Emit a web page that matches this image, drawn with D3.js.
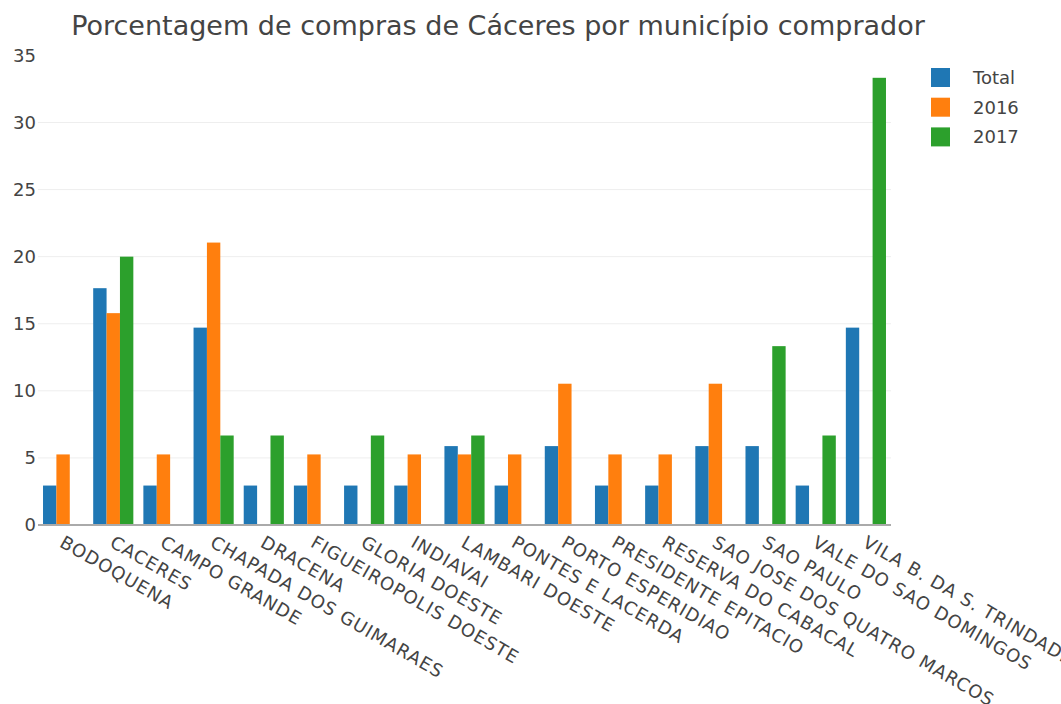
<!DOCTYPE html>
<html>
<head>
    <meta charset="utf-8">
    <title>Compras de Cáceres</title>
    <script src="https://cdnjs.cloudflare.com/ajax/libs/d3/7.8.5/d3.min.js"></script>
    <style>
        html, body {
            margin: 0;
            padding: 0;
            background-color: #fff;
        }
        svg {
            font-family: 'DejaVu Sans', Verdana, sans-serif;
            fill: #444;
        }
    </style>
</head>
<body>
    <div id="chart"></div>
    <script>
        const municipios = ["BODOQUENA", "CACERES", "CAMPO GRANDE", "CHAPADA DOS GUIMARAES", "DRACENA",
            "FIGUEIROPOLIS DOESTE", "GLORIA DOESTE", "INDIAVAI", "LAMBARI DOESTE", "PONTES E LACERDA",
            "PORTO ESPERIDIAO", "PRESIDENTE EPITACIO", "RESERVA DO CABACAL", "SAO JOSE DOS QUATRO MARCOS",
            "SAO PAULO", "VALE DO SAO DOMINGOS", "VILA B. DA S. TRINDADE"];
        const series = ["Total", "2016", "2017"];
        const total = [2.94, 17.65, 2.94, 14.71, 2.94, 2.94, 2.94, 2.94, 5.88, 2.94, 5.88, 2.94, 2.94, 5.88, 5.88, 2.94, 14.71];
        const ano2016 = [5.26, 15.79, 5.26, 21.05, 0, 5.26, 0, 5.26, 5.26, 5.26, 10.53, 5.26, 5.26, 10.53, 0, 0, 0];
        const ano2017 = [0, 20, 0, 6.67, 6.67, 0, 6.67, 0, 6.67, 0, 0, 0, 0, 0, 13.33, 6.67, 33.33];
        const yTicks = [0, 5, 10, 15, 20, 25, 30, 35];
        const colors = ["#1f77b4", "#ff7f0e", "#2ca02c"];

        const valores = [total, ano2016, ano2017];
        const width = 1061, height = 704;
        const m = { left: 38, right: 891, top: 55.4, bottom: 525 };

        const svg = d3.select("#chart").append("svg")
            .attr("width", width)
            .attr("height", height);

        const x = d3.scaleBand().domain(municipios).range([m.left, m.right]).paddingInner(0.2).paddingOuter(0.1);
        const xSub = d3.scaleBand().domain(series).range([0, x.bandwidth()]);
        const y = d3.scaleLinear().domain([0, 35]).range([m.bottom, m.top]);

        // grid
        svg.append("g").selectAll("line")
            .data(yTicks.filter(t => t > 0 && t < 35))
            .enter().append("line")
            .attr("x1", m.left).attr("x2", m.right)
            .attr("y1", d => y(d)).attr("y2", d => y(d))
            .attr("stroke", "#eee").attr("stroke-width", 1);

        // y tick labels
        svg.append("g").selectAll("text")
            .data(yTicks)
            .enter().append("text")
            .attr("x", m.left - 2)
            .attr("y", d => y(d))
            .attr("dy", "0.36em")
            .attr("text-anchor", "end")
            .style("font-size", "18px")
            .text(d => d);

        // bars
        series.forEach((s, k) => {
            svg.append("g").selectAll("rect")
                .data(municipios)
                .enter().append("rect")
                .attr("x", d => x(d) + xSub(s))
                .attr("width", xSub.bandwidth())
                .attr("y", (d, i) => y(valores[k][i]))
                .attr("height", (d, i) => y(0) - y(valores[k][i]))
                .attr("fill", colors[k]);
        });

        // axis line
        svg.append("line")
            .attr("x1", m.left).attr("x2", m.right)
            .attr("y1", m.bottom).attr("y2", m.bottom)
            .attr("stroke", "#aaa").attr("stroke-width", 2);

        // category labels
        svg.append("g").selectAll("text")
            .data(municipios)
            .enter().append("text")
            .attr("transform", d => {
                const cx = x(d) + x.bandwidth() / 2 - 4.5;
                return "translate(" + cx + "," + (m.bottom + 21) + ") rotate(30)";
            })
            .style("font-size", "18px")
            .style("letter-spacing", "1px")
            .text(d => d);

        // title
        svg.append("text")
            .attr("x", 498)
            .attr("y", 34.5)
            .attr("text-anchor", "middle")
            .style("font-size", "27px")
            .text("Porcentagem de compras de Cáceres por município comprador");

        // legend
        const legend = svg.append("g").attr("transform", "translate(931,68)");
        series.forEach((s, k) => {
            const row = legend.append("g").attr("transform", "translate(0," + (k * 29.7) + ")");
            row.append("rect")
                .attr("width", 19).attr("height", 19)
                .attr("fill", colors[k]);
            row.append("text")
                .attr("x", 42).attr("y", 9.5)
                .attr("dy", "0.36em")
                .style("font-size", "18px")
                .text(s);
        });
    </script>
</body>
</html>
